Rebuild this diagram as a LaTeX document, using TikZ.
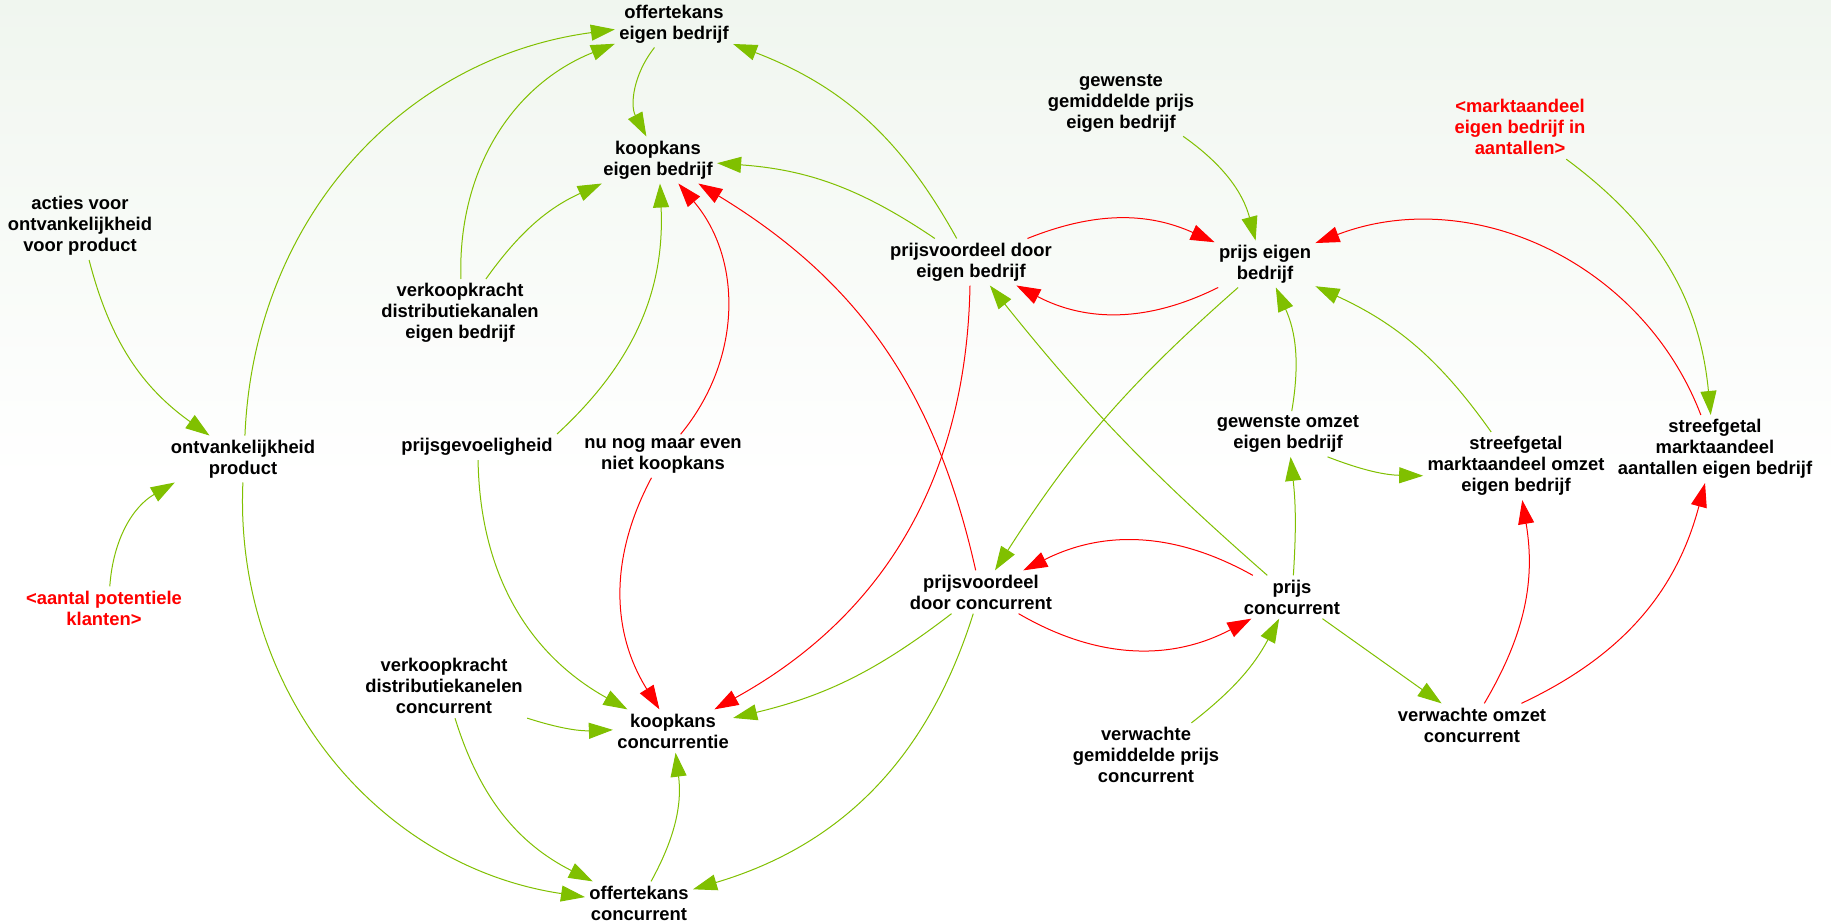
\documentclass[tikz,border=0pt]{standalone}
\usepackage{fontspec}
\setmainfont{Liberation Sans}
\usetikzlibrary{arrows.meta}

\definecolor{linkgreen}{RGB}{128,192,0}
\definecolor{linkred}{RGB}{255,0,0}
\definecolor{bgtop}{RGB}{240,246,239}

\tikzset{
  var/.style={align=center, inner sep=2pt, font=\bfseries\fontsize{9.2}{10.5}\selectfont},
  shadowvar/.style={var, text=linkred},
  poslink/.style={draw=linkgreen, line width=0.5pt, -{Triangle[length=12pt,width=8pt]}},
  neglink/.style={draw=linkred, line width=0.5pt, -{Triangle[length=12pt,width=8pt]}}
}

\begin{document}
\begin{tikzpicture}[x=0.5pt,y=0.5pt]
        % background
        \useasboundingbox (0,0) rectangle (1831,-923);
        \fill[white] (0,0) rectangle (1831,-923);
        \shade[top color=bgtop, bottom color=white] (0,0) rectangle (1831,-480);

        % variables
        \node[var] (acties) at (80,-226) {acties voor\\ontvankelijkheid\\voor product};
        \node[var] (ontvank) at (243,-459) {ontvankelijkheid\\product};
        \node[shadowvar] (aantal) at (104,-608) {<aantal potentiele\\klanten>};
        \node[var] (offEB) at (674,-24) {offertekans\\eigen bedrijf};
        \node[var] (koopEB) at (658,-160) {koopkans\\eigen bedrijf};
        \node[var] (verkEB) at (460,-313) {verkoopkracht\\distributiekanalen\\eigen bedrijf};
        \node[var] (prijsgev) at (477,-447) {prijsgevoeligheid};
        \node[var] (nunog) at (663,-456) {nu nog maar even\\niet koopkans};
        \node[var] (pvEB) at (971,-262) {prijsvoordeel door\\eigen bedrijf};
        \node[var] (gewPrijsEB) at (1121,-103) {gewenste\\gemiddelde prijs\\eigen bedrijf};
        \node[var] (prijsEB) at (1265,-264) {prijs eigen\\bedrijf};
        \node[shadowvar] (marktEB) at (1520,-127) {<marktaandeel\\eigen bedrijf in\\aantallen>};
        \node[var] (gewOmzet) at (1288,-434) {gewenste omzet\\eigen bedrijf};
        \node[var] (streefOmzet) at (1516,-466) {streefgetal\\marktaandeel omzet\\eigen bedrijf};
        \node[var] (streefAant) at (1715,-449) {streefgetal\\marktaandeel\\aantallen eigen bedrijf};
        \node[var] (pvConc) at (981,-592) {prijsvoordeel\\door concurrent};
        \node[var] (prijsConc) at (1292,-597) {prijs\\concurrent};
        \node[var] (verkConc) at (444,-686) {verkoopkracht\\distributiekanelen\\concurrent};
        \node[var] (koopConc) at (673,-731) {koopkans\\concurrentie};
        \node[var] (offConc) at (639,-903) {offertekans\\concurrent};
        \node[var] (verwPrijs) at (1146,-755) {verwachte\\gemiddelde prijs\\concurrent};
        \node[var] (verwOmzet) at (1472,-725) {verwachte omzet\\concurrent};

        % links on the left
        \draw[poslink] (acties) to[bend right=20] (ontvank);
        \draw[poslink] (aantal) to[bend left=28] (ontvank);
        \draw[poslink] (ontvank) to[bend left=40] (offEB);
        \draw[poslink] (ontvank) to[bend right=42] (offConc);

        % into offertekans and koopkans eigen bedrijf
        \draw[poslink] (verkEB) to[bend left=35] (offEB);
        \draw[poslink] (verkEB) to[bend left=15] (koopEB);
        \draw[poslink] (offEB) to[bend right=33] (koopEB);
        \draw[poslink] (prijsgev.north east) to[bend right=25] (koopEB);
        \draw[neglink] (nunog) to[bend right=40] (koopEB);
        \draw[neglink] (pvConc) to[bend right=23] (koopEB);
        \draw[poslink] (pvEB) to[bend right=15] (koopEB);
        \draw[poslink] (pvEB) to[bend right=20] (offEB);

        % prijs eigen bedrijf
        \draw[neglink] (pvEB) to[bend left=23] (prijsEB);
        \draw[neglink] (prijsEB) to[bend left=27] (pvEB);
        \draw[poslink] (gewPrijsEB) to[bend left=20] (prijsEB);
        \draw[poslink] (marktEB) to[bend left=24] (streefAant);
        \draw[neglink] (streefAant) to[bend right=45] (prijsEB);
        \draw[poslink] (streefOmzet) to[bend right=15] (prijsEB);
        \draw[poslink] (gewOmzet) to[bend right=17] (prijsEB);
        \draw[poslink] (prijsEB) to[bend right=8] (pvConc);
        \draw[poslink] (prijsConc) to[bend left=5] (pvEB);

        % prijs concurrent
        \draw[poslink] (prijsConc) to[bend right=5] (gewOmzet);
        \draw[poslink] (gewOmzet.-30) to[bend right=10] (streefOmzet.186);
        \draw[neglink] (pvConc) to[bend right=29] (prijsConc);
        \draw[neglink] (prijsConc) to[bend right=28] (pvConc);
        \draw[poslink] (verwPrijs) to[bend right=12] (prijsConc);
        \draw[poslink] (prijsConc) -- (verwOmzet);
        \draw[neglink] (verwOmzet) to[bend right=20] (streefOmzet);
        \draw[neglink] (verwOmzet) to[bend right=25] (streefAant);

        % into koopkans and offertekans concurrent
        \draw[poslink] (verkConc) to[bend right=23] (offConc);
        \draw[poslink] (verkConc) to[bend right=10] (koopConc);
        \draw[poslink] (prijsgev) to[bend right=30] (koopConc);
        \draw[neglink] (nunog) to[bend right=30] (koopConc);
        \draw[neglink] (pvEB) to[bend left=30] (koopConc);
        \draw[poslink] (pvConc) to[bend left=12] (koopConc);
        \draw[poslink] (pvConc) to[bend left=28] (offConc);
        \draw[poslink] (offConc) to[bend right=18] (koopConc);
    \end{tikzpicture}
\end{document}
